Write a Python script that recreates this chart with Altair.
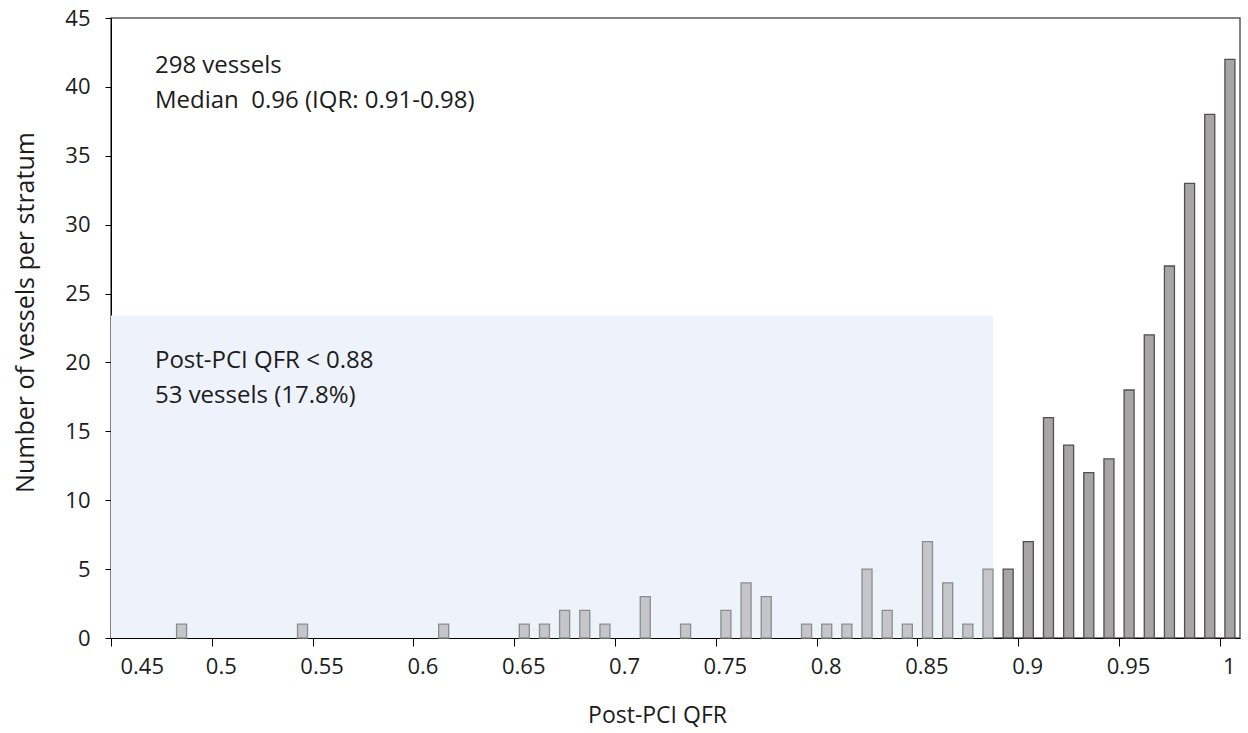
import altair as alt
import pandas as pd

# Stratum centres (bin midpoints) and counts
centers = [0.485, 0.545, 0.615, 0.655, 0.665, 0.675, 0.685, 0.695, 0.715, 0.735,
           0.755, 0.765, 0.775, 0.795, 0.805, 0.815, 0.825, 0.835, 0.845, 0.855,
           0.865, 0.875, 0.885, 0.895, 0.905, 0.915, 0.925, 0.935, 0.945, 0.955,
           0.965, 0.975, 0.985, 0.995, 1.005]
counts = [1, 1, 1, 1, 1, 2, 2, 1, 3, 1,
          2, 4, 3, 1, 1, 1, 5, 2, 1, 7,
          4, 1, 5, 5, 7, 16, 14, 12, 13, 18,
          22, 27, 33, 38, 42]
groups = ["low"] * 23 + ["high"] * 12

x_ticks = [0.45, 0.5, 0.55, 0.6, 0.65, 0.7, 0.75, 0.8, 0.85, 0.9, 0.95, 1.0]
y_ticks = [0, 5, 10, 15, 20, 25, 30, 35, 40, 45]

ann_text = ["298 vessels", "Median\u00a0\u00a00.96 (IQR: 0.91-0.98)",
            "Post-PCI QFR < 0.88", "53 vessels (17.8%)"]
ann_x = [0.4718, 0.4718, 0.4718, 0.4718]
ann_y = [41.5, 39.0, 20.1, 17.6]

shade_x = [0.45]
shade_x2 = [0.8875]
shade_y2 = [23.4]

bars = pd.DataFrame({"x": centers, "n": counts, "g": groups})
ann = pd.DataFrame({"t": ann_text, "x": ann_x, "y": ann_y})
shade = pd.DataFrame({"x": shade_x, "x2": shade_x2, "y": [0], "y2": shade_y2})

FONT = "Open Sans"
TXT = "#1c1c1c"
xscale = alt.Scale(domain=[0.45, 1.01], nice=False, zero=False, padding=0)
yscale = alt.Scale(domain=[0, 45], nice=False, padding=0)

xaxis = alt.Axis(values=x_ticks, labelExpr="format(datum.value, '.2~f')",
                 title="Post-PCI QFR", grid=False, domainColor="#000000",
                 tickColor="#000000", tickSize=8, labelFontSize=22, labelFont=FONT,
                 labelColor=TXT, labelPadding=10, labelOffset=9,
                 titleFont=FONT, titleFontSize=23, titleFontWeight="normal",
                 titleColor=TXT, titleX=546, titleY=84,
                 titleBaseline="alphabetic", titleAlign="center")
yaxis = alt.Axis(values=y_ticks, title="Number of vessels per stratum", grid=False,
                 domainColor="#000000", tickColor="#000000", tickSize=6,
                 labelFontSize=22, labelFont=FONT, labelColor=TXT,
                 labelPadding=15, titleFont=FONT, titleFontSize=25,
                 titleFontWeight="normal", titleColor=TXT,
                 titleX=-86, titleY=294, titleAngle=-90, titleAlign="center",
                 titleBaseline="middle")

shade_layer = alt.Chart(shade).mark_rect(color="#eef2fb").encode(
    x=alt.X("x:Q", scale=xscale, axis=xaxis),
    x2="x2:Q",
    y=alt.Y("y:Q", scale=yscale, axis=yaxis),
    y2="y2:Q",
)

bar_layer = alt.Chart(bars).mark_bar(size=10, strokeWidth=1.3).encode(
    x=alt.X("x:Q", scale=xscale),
    y=alt.Y("n:Q", scale=yscale),
    fill=alt.Fill("g:N", scale=alt.Scale(domain=["low", "high"],
                                         range=["#c4c6cc", "#a7a5a6"]), legend=None),
    stroke=alt.Stroke("g:N", scale=alt.Scale(domain=["low", "high"],
                                             range=["#8c8c8c", "#505050"]), legend=None),
)

text_layer = alt.Chart(ann).mark_text(align="left", baseline="middle", font=FONT,
                                      fontSize=24, color=TXT).encode(
    x=alt.X("x:Q", scale=xscale),
    y=alt.Y("y:Q", scale=yscale),
    text="t:N",
)

chart = alt.layer(shade_layer, bar_layer, text_layer).properties(
    width=1129, height=620,
    autosize=alt.AutoSizeParams(type="none"),
    padding={"left": 111, "top": 18, "right": 8, "bottom": 95},
    background="white",
).configure_view(stroke="#595959", strokeWidth=1.5)

chart.save("out.html", embed_options={"renderer": "svg", "actions": False})
